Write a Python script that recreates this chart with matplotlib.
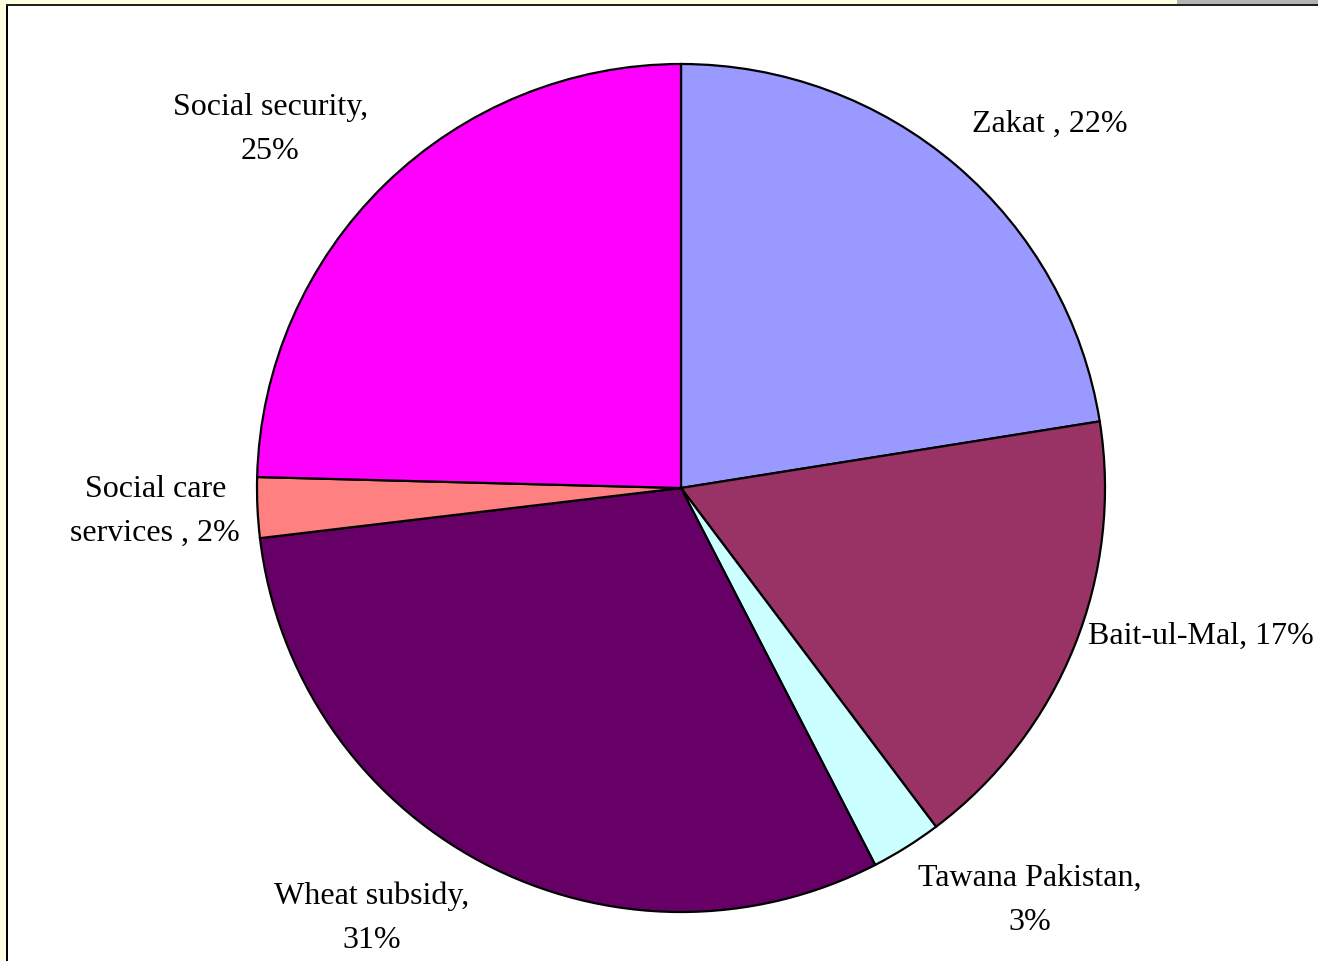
import matplotlib.pyplot as plt
from matplotlib.patches import Rectangle

labels = ['Zakat , 22%', 'Bait-ul-Mal, 17%', 'Tawana Pakistan,\n3%',
          'Wheat subsidy,\n31%', 'Social care\nservices , 2%', 'Social security,\n25%']
shares = [22.5, 17.25, 2.7, 30.7, 2.3, 24.6]
colors = ['#9999FF', '#993366', '#CCFFFF', '#660066', '#FF8080', '#FF00FF']

# label centres, in units of the pie radius
label_xy = [(0.87, 0.86), (1.225, -0.347), (0.823, -0.97),
            (-0.729, -1.012), (-1.24, -0.052), (-0.969, 0.847)]

W, H = 1318, 962
cx, cy, R = 681, 489, 424

plt.rcParams['font.family'] = ['Liberation Serif', 'DejaVu Serif']

fig = plt.figure(figsize=(W / 100, H / 100), dpi=100)
fig.patch.set_facecolor('white')

# frame bits around the chart area
fig.patches.append(Rectangle((0, 0), 6 / W, 1, transform=fig.transFigure,
                             facecolor='#FFFFE0', edgecolor='none'))
fig.patches.append(Rectangle((0, 1 - 5 / H), 1, 5 / H, transform=fig.transFigure,
                             facecolor='#FFFFE0', edgecolor='none'))
fig.patches.append(Rectangle((1177 / W, 1 - 5 / H), 1, 5 / H, transform=fig.transFigure,
                             facecolor='#B3B3B3', edgecolor='none'))
fig.patches.append(Rectangle((6 / W, 0), 2 / W, 1 - 5 / H, transform=fig.transFigure,
                             facecolor='black', edgecolor='none'))
fig.patches.append(Rectangle((6 / W, 1 - 7 / H), 1, 2 / H, transform=fig.transFigure,
                             facecolor='#222222', edgecolor='none'))

ax = fig.add_axes([0, 0, 1, 1])
ax.pie(shares, colors=colors, startangle=90, counterclock=False, radius=1,
       wedgeprops=dict(edgecolor='black', linewidth=1.6))
ax.set_xlim(-cx / R, (W - cx) / R)
ax.set_ylim(-(H - cy) / R, cy / R)
ax.set_aspect('auto')
ax.axis('off')

for lab, (x, y) in zip(labels, label_xy):
    ax.text(x, y, lab, ha='center', va='center', fontsize=23,
            linespacing=1.68, color='black')

fig.savefig('out.png', dpi=100)
